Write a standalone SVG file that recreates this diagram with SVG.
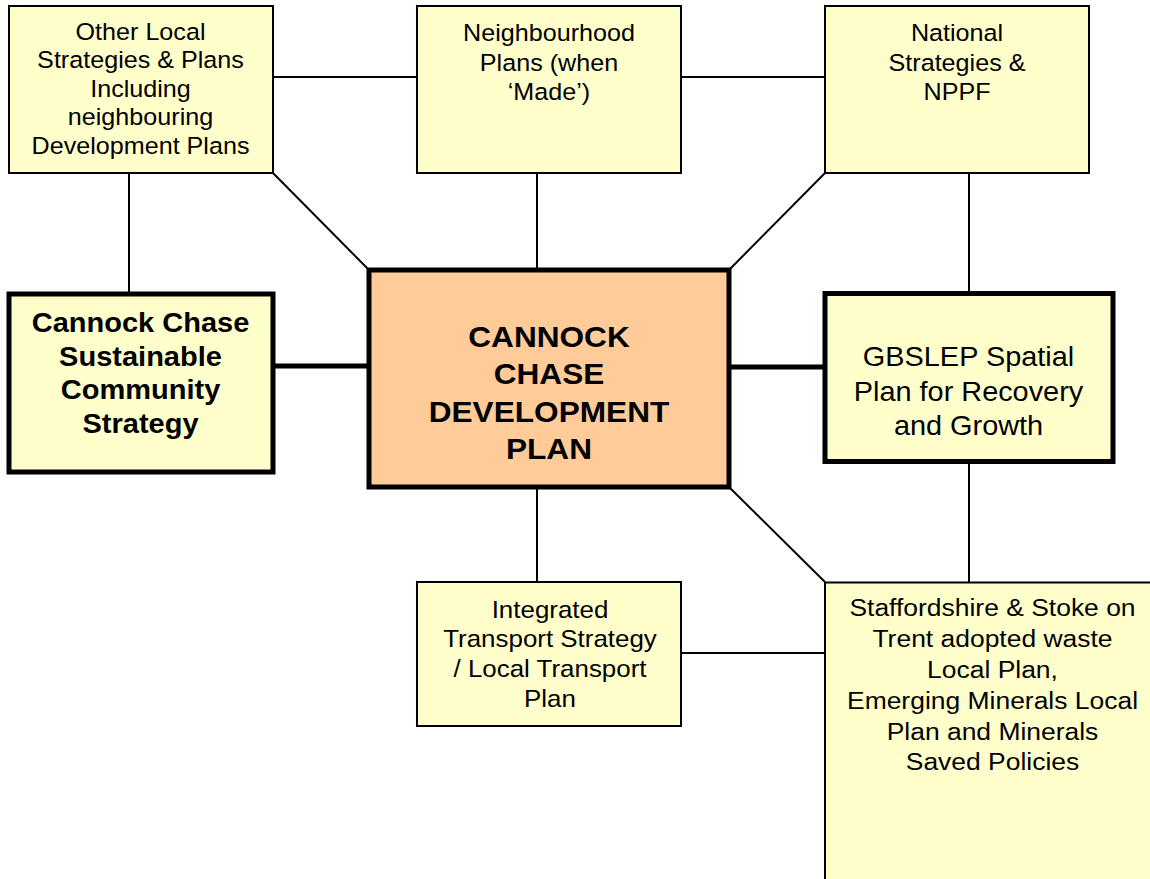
<svg xmlns="http://www.w3.org/2000/svg" width="1150" height="879" viewBox="0 0 1150 879">
<style>
.thin{stroke:#000;stroke-width:2;fill:none}
.thick{stroke:#000;stroke-width:5;fill:none}
.ybox{fill:#FFFFCC;stroke:#000;stroke-width:2}
.ybold{fill:#FFFFCC;stroke:#000;stroke-width:5}
.obox{fill:#FFCC99;stroke:#000;stroke-width:5}
text{font-family:"Liberation Sans",Arial,sans-serif;fill:#000;text-anchor:middle}
.r{font-size:23.5px}
.b{font-weight:bold}
</style>
<rect width="1150" height="879" fill="#fff"/>
<g id="connectors">
<line class="thin" x1="273" y1="77" x2="417" y2="77"/>
<line class="thin" x1="681" y1="77" x2="825" y2="77"/>
<line class="thin" x1="129" y1="173" x2="129" y2="294"/>
<line class="thin" x1="273" y1="173" x2="369" y2="270"/>
<line class="thin" x1="537" y1="173" x2="537" y2="270"/>
<line class="thin" x1="825" y1="173" x2="729" y2="270"/>
<line class="thin" x1="969" y1="173" x2="969" y2="293"/>
<line class="thick" x1="273" y1="366" x2="369" y2="366"/>
<line class="thick" x1="729" y1="367" x2="825" y2="367"/>
<line class="thin" x1="969" y1="462" x2="969" y2="582"/>
<line class="thin" x1="537" y1="487" x2="537" y2="582"/>
<line class="thin" x1="729" y1="487" x2="825" y2="582"/>
<line class="thin" x1="681" y1="653" x2="825" y2="653"/>
</g>
<g id="other-local">
<rect class="ybox" x="9" y="6" width="264" height="167"/>
<text class="r" transform="translate(140.5 0) scale(1.07 1)"><tspan x="0" y="40">Other Local</tspan><tspan x="0" y="68.5">Strategies &amp; Plans</tspan><tspan x="0" y="97">Including</tspan><tspan x="0" y="125.5">neighbouring</tspan><tspan x="0" y="154">Development Plans</tspan></text>
</g>
<g id="neighbourhood">
<rect class="ybox" x="417" y="6" width="264" height="167"/>
<text class="r" transform="translate(549 0) scale(1.07 1)"><tspan x="0" y="41">Neighbourhood</tspan><tspan x="0" y="71.5">Plans (when</tspan><tspan x="0" y="100">‘Made’)</tspan></text>
</g>
<g id="national">
<rect class="ybox" x="825" y="6" width="264" height="167"/>
<text class="r" transform="translate(957 0) scale(1.07 1)"><tspan x="0" y="41.5">National</tspan><tspan x="0" y="71.5">Strategies &amp;</tspan><tspan x="0" y="100.5">NPPF</tspan></text>
</g>
<g id="community-strategy">
<rect class="ybold" x="9" y="294" width="264" height="178"/>
<text class="b" font-size="27" transform="translate(140.5 0) scale(1.075 1)"><tspan x="0" y="332">Cannock Chase</tspan><tspan x="0" y="366">Sustainable</tspan><tspan x="0" y="399.5">Community</tspan><tspan x="0" y="433.5">Strategy</tspan></text>
</g>
<g id="development-plan">
<rect class="obox" x="369" y="270" width="360" height="217"/>
<text class="b" font-size="29" transform="translate(549 0) scale(1.09 1)"><tspan x="0" y="347.5">CANNOCK</tspan><tspan x="0" y="384.5">CHASE</tspan><tspan x="0" y="422">DEVELOPMENT</tspan><tspan x="0" y="459.5">PLAN</tspan></text>
</g>
<g id="gbslep">
<rect class="ybold" x="825" y="293.5" width="288" height="168"/>
<text font-size="27.5" transform="translate(968.5 0) scale(1.05 1)"><tspan x="0" y="366.5">GBSLEP Spatial</tspan><tspan x="0" y="401">Plan for Recovery</tspan><tspan x="0" y="435">and Growth</tspan></text>
</g>
<g id="transport">
<rect class="ybox" x="417" y="582" width="264" height="144"/>
<text font-size="24" transform="translate(550 0) scale(1.08 1)"><tspan x="0" y="618.5">Integrated</tspan><tspan x="0" y="647">Transport Strategy</tspan><tspan x="0" y="677.5">/ Local Transport</tspan><tspan x="0" y="707.5">Plan</tspan></text>
</g>
<g id="waste-minerals">
<rect class="ybox" x="825" y="582.5" width="345" height="320"/>
<text font-size="24.5" transform="translate(992.5 0) scale(1.08 1)"><tspan x="0" y="616.5">Staffordshire &amp; Stoke on</tspan><tspan x="0" y="647.5">Trent adopted waste</tspan><tspan x="0" y="678.5">Local Plan,</tspan><tspan x="0" y="709">Emerging Minerals Local</tspan><tspan x="0" y="740">Plan and Minerals</tspan><tspan x="0" y="770.5">Saved Policies</tspan></text>
</g>
</svg>
